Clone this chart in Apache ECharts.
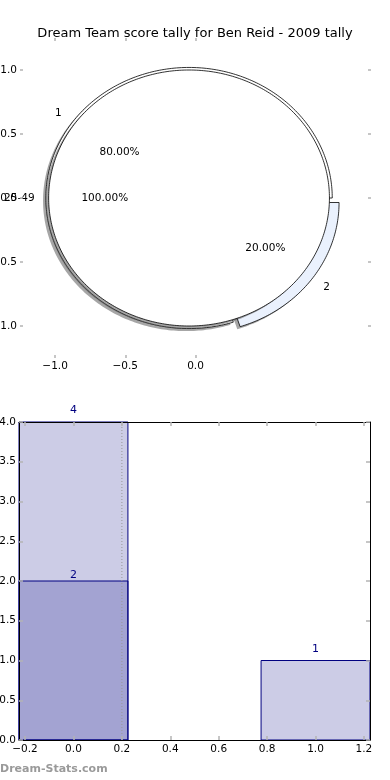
<!DOCTYPE html>
<html><head><meta charset="utf-8">
<script src="https://cdn.jsdelivr.net/npm/echarts@6/dist/echarts.min.js"></script>
<style>html,body{margin:0;padding:0;background:#fff}#c{width:390px;height:780px}</style>
</head><body><div id="c"></div>
<script>
// ---- data ----
const titleText = 'Dream Team score tally for Ben Reid - 2009 tally';
const outerLabels = ['1', '2'];
const outerValues = [4, 1];
const outerExplode = [0, 0.06];
const innerLabels = ['25-49'];
const innerValues = [5];
const pieXTicks = [-1.0, -0.5, 0.0];
const pieYTicks = [-1.0, -0.5, 0.0, 0.5, 1.0];
const barX = [0, 1];
const barTotals = [4, 1];
const barSecond = [2, null];
const barXTicks = [-0.2, 0.0, 0.2, 0.4, 0.6, 0.8, 1.0, 1.2];
const barYTicks = [0.0, 0.5, 1.0, 1.5, 2.0, 2.5, 3.0, 3.5, 4.0];
const refLineX = 0.2;
const watermark = 'Dream-Stats.com';

// ---- geometry / style ----
const FONT = '"DejaVu Sans", sans-serif';
const pieCenter = [-0.046, 0];
const outerR = 1.02, innerR = 1.0;
const barHalf = 0.225;
const tickColor = '#b4b4b4';

function wedges(values, explode) {
  const total = values.reduce((a, b) => a + b, 0);
  let a = 0;
  return values.map((v, i) => {
    const a0 = a, a1 = a + 360 * v / total;
    a = a1;
    return { a0, a1, ex: explode ? explode[i] : 0, pct: 100 * v / total };
  });
}
const outerW = wedges(outerValues, outerExplode);
const innerW = wedges(innerValues, null);

function wedgePts(api, w, r, dx, dy) {
  const mid = (w.a0 + w.a1) / 2 * Math.PI / 180;
  const cx = pieCenter[0] + w.ex * Math.cos(mid) + dx;
  const cy = pieCenter[1] + w.ex * Math.sin(mid) + dy;
  const full = Math.abs(w.a1 - w.a0 - 360) < 1e-9;
  const pts = full ? [] : [api.coord([cx, cy])];
  const n = Math.max(4, Math.ceil(Math.abs(w.a1 - w.a0)));
  for (let i = 0; i <= n; i++) {
    const a = (w.a0 + (w.a1 - w.a0) * i / n) * Math.PI / 180;
    pts.push(api.coord([cx + r * Math.cos(a), cy + r * Math.sin(a)]));
  }
  return pts;
}

const outerColors = ['#ffffff', '#eaf1fd'];
const innerColors = ['#ffffff'];
const shadowFill = 'rgba(77,77,77,0.5)';

const pieLabelItems = [];
outerW.forEach((w, i) => pieLabelItems.push({ w, r: outerR, text: outerLabels[i], pct: false }));
outerW.forEach((w, i) => pieLabelItems.push({ w, r: outerR, text: w.pct.toFixed(2) + '%', pct: true }));
innerW.forEach((w, i) => pieLabelItems.push({ w, r: innerR, text: innerLabels[i], pct: false }));
innerW.forEach((w, i) => pieLabelItems.push({ w, r: innerR, text: w.pct.toFixed(2) + '%', pct: true }));

const fmt = v => (v < 0 ? '\u2212' : '') + Math.abs(v).toFixed(1);

const chart = echarts.init(document.getElementById('c'), null, { renderer: 'canvas' });

function ticks(values, len) {
  return { show: true, inside: true, length: len, lineStyle: { color: tickColor, width: 1.5 }, customValues: values };
}
function lbl(values, margin) {
  return { show: true, customValues: values, formatter: fmt, margin, color: '#000', fontFamily: FONT, fontSize: 10.5 };
}
const noLine = { show: false, onZero: false };
const frameLine = { show: true, onZero: false, lineStyle: { color: '#000', width: 1 } };

function ax(extra) {
  return Object.assign({ type: 'value', z: 10, splitLine: { show: false }, axisLine: noLine, axisLabel: { show: false } }, extra);
}

function pieSeries(ws, r, colors, z, isShadow) {
  return {
    type: 'custom', xAxisIndex: 0, yAxisIndex: 0, z, silent: true,
    data: ws.map((w, i) => [i]),
    renderItem: (params, api) => {
      const i = api.value(0);
      if (isShadow) {
        return { type: 'polygon', shape: { points: wedgePts(api, ws[i], r, -0.02, -0.02) },
          style: { fill: shadowFill, stroke: null } };
      }
      return { type: 'polygon', shape: { points: wedgePts(api, ws[i], r, 0, 0) },
        style: { fill: colors[i], stroke: '#000', lineWidth: 0.8 } };
    }
  };
}

const option = {
  animation: false,
  backgroundColor: '#fff',
  title: {
    text: titleText, left: 'center', top: 22,
    textStyle: { fontFamily: FONT, fontSize: 13, fontWeight: 'normal', color: '#000' }
  },
  graphic: [{
    type: 'text', left: 0, top: 764,
    style: { text: watermark, font: 'bold 11px ' + FONT, fill: '#9a9a9a' }
  }],
  grid: [
    { left: 20, top: 38, width: 351, height: 320, outerBoundsMode: 'none', containLabel: false },
    { left: 19, top: 422, width: 351, height: 318, outerBoundsMode: 'none', containLabel: false }
  ],
  xAxis: [
    ax({ gridIndex: 0, position: 'bottom', min: -1.25, max: 1.25, axisTick: ticks(pieXTicks, 3), axisLabel: lbl(pieXTicks, 3) }),
    ax({ gridIndex: 0, position: 'top', min: -1.25, max: 1.25, axisTick: ticks(pieXTicks, 3) }),
    ax({ gridIndex: 1, position: 'bottom', min: -barHalf, max: 1 + barHalf, axisLine: frameLine, axisTick: ticks(barXTicks, 4), axisLabel: lbl(barXTicks, 4) }),
    ax({ gridIndex: 1, position: 'top', min: -barHalf, max: 1 + barHalf, axisLine: frameLine, axisTick: ticks(barXTicks, 4) })
  ],
  yAxis: [
    ax({ gridIndex: 0, position: 'left', min: -1.25, max: 1.25, axisTick: ticks(pieYTicks, 3), axisLabel: lbl(pieYTicks, 3) }),
    ax({ gridIndex: 0, position: 'right', min: -1.25, max: 1.25, axisTick: ticks(pieYTicks, 3) }),
    ax({ gridIndex: 1, position: 'left', min: 0, max: 4, axisLine: frameLine, axisTick: ticks(barYTicks, 4), axisLabel: lbl(barYTicks, 3) }),
    ax({ gridIndex: 1, position: 'right', min: 0, max: 4, axisLine: frameLine, axisTick: ticks(barYTicks, 4) })
  ],
  series: [
    pieSeries(outerW, outerR, outerColors, 1, true),
    pieSeries(outerW, outerR, outerColors, 2, false),
    pieSeries(innerW, innerR, innerColors, 3, true),
    pieSeries(innerW, innerR, innerColors, 4, false),
    {
      type: 'custom', xAxisIndex: 0, yAxisIndex: 0, z: 5, silent: true,
      data: pieLabelItems.map((it, i) => [i]),
      renderItem: (params, api) => {
        const it = pieLabelItems[api.value(0)];
        const mid = (it.w.a0 + it.w.a1) / 2 * Math.PI / 180;
        const d = it.w.ex + (it.pct ? 0.6 : 1.1) * it.r;
        const x = pieCenter[0] + d * Math.cos(mid), y = pieCenter[1] + d * Math.sin(mid);
        const p = api.coord([x, y]);
        const align = it.pct ? 'center' : (x - pieCenter[0] < 0 ? 'right' : 'left');
        return { type: 'text', x: p[0], y: p[1],
          style: { text: it.text, fill: '#000', font: '10.5px ' + FONT, align, verticalAlign: 'middle' } };
      }
    },
    {
      type: 'custom', xAxisIndex: 2, yAxisIndex: 2, z: 2, silent: true,
      data: barX.map((x, i) => [x, barTotals[i]]),
      renderItem: (params, api) => barItem(api, 6)
    },
    {
      type: 'custom', xAxisIndex: 2, yAxisIndex: 2, z: 3, silent: true,
      data: barX.map((x, i) => [x, barSecond[i]]).filter(d => d[1] != null),
      renderItem: (params, api) => barItem(api, 0)
    },
    {
      type: 'custom', xAxisIndex: 2, yAxisIndex: 2, z: 4, silent: true,
      data: [[refLineX]],
      renderItem: (params, api) => {
        const a = api.coord([api.value(0), 0]), b = api.coord([api.value(0), 4]);
        return { type: 'line', shape: { x1: a[0], y1: a[1], x2: b[0], y2: b[1] },
          style: { stroke: '#999', lineWidth: 1, lineDash: [1, 2] } };
      }
    }
  ]
};

function barItem(api, labelGap) {
  const x = api.value(0), v = api.value(1);
  const p0 = api.coord([x - barHalf, 0]), p1 = api.coord([x + barHalf, v]);
  return { type: 'group', children: [
    { type: 'rect', shape: { x: p0[0], y: p1[1], width: p1[0] - p0[0], height: p0[1] - p1[1] },
      style: { fill: 'rgba(0,0,128,0.2)', stroke: '#000080', lineWidth: 1 } },
    { type: 'text', x: (p0[0] + p1[0]) / 2, y: p1[1] - labelGap,
      style: { text: String(v), fill: '#000080', font: '11px ' + FONT, align: 'center', verticalAlign: 'bottom' } }
  ] };
}

chart.setOption(option);
</script>
</body></html>
